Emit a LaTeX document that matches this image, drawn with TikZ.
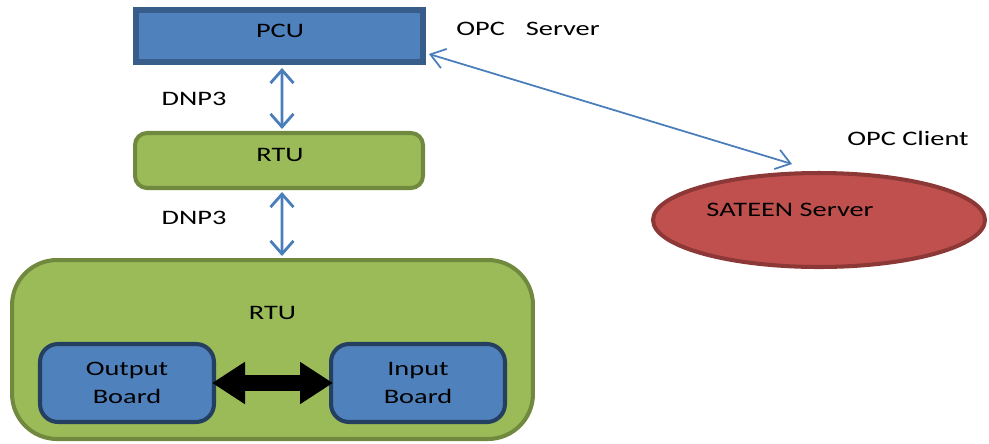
\documentclass[tikz,border=0pt]{standalone}
\usepackage{fontspec}
\setmainfont[FakeStretch=1.38]{Carlito}
\usetikzlibrary{arrows.meta,shapes.geometric}
\definecolor{boxblue}{HTML}{4F81BD}
\definecolor{boxblueline}{HTML}{385D8A}
\definecolor{boardline}{HTML}{243F60}
\definecolor{rtugreen}{HTML}{9BBB59}
\definecolor{rtuline}{HTML}{71893F}
\definecolor{srvred}{HTML}{C0504D}
\definecolor{srvline}{HTML}{8C3836}
\definecolor{linkblue}{HTML}{4A7EBB}
\begin{document}
\begin{tikzpicture}[x=0.02cm,y=-0.02cm,
		every node/.style={font=\fontsize{11.7}{16}\selectfont,text=black},
		pcubox/.style={draw=boxblueline,fill=boxblue,line width=3.4pt,minimum width=5.74cm,minimum height=1.04cm},
		rtubox/.style={draw=rtuline,fill=rtugreen,line width=2.3pt,rounded corners=0.24cm,minimum width=5.76cm,minimum height=1.1cm},
		bigrtu/.style={draw=rtuline,fill=rtugreen,line width=2.3pt,rounded corners=0.9cm,minimum width=10.42cm,minimum height=3.58cm},
		board/.style={draw=boardline,fill=boxblue,line width=2.3pt,rounded corners=0.36cm,minimum width=3.48cm,minimum height=1.56cm,align=center,inner sep=0pt},
		server/.style={ellipse,draw=srvline,fill=srvred,line width=2.3pt,minimum width=6.64cm,minimum height=1.88cm,inner sep=0pt},
		dnp/.style={linkblue,line width=1.6pt,{Straight Barb[length=0.26cm,width=0.46cm]}-{Straight Barb[length=0.26cm,width=0.46cm]}},
		opclink/.style={linkblue,line width=1pt,{Straight Barb[length=0.28cm,width=0.4cm]}-{Straight Barb[length=0.28cm,width=0.4cm]}},
		busarrow/.style={black,line width=0.33cm,{Triangle[length=0.66cm,width=0.8cm]}-{Triangle[length=0.66cm,width=0.8cm]},shorten <=-0.08cm,shorten >=-0.08cm}]
		\useasboundingbox (0,0) rectangle (989,443);
		\node[pcubox] (pcu) at (279.5,36) {};
		\node (pcut) at (280,31) {PCU};
		\node[rtubox] (rtu) at (279,160.5) {};
		\node (rtut) at (280,155) {RTU};
		\node[bigrtu,label={[anchor=center,yshift=-1.1cm]north:RTU}] (rtubig) at (272.5,349.5) {};
		\node[board] (outb) at (127,383) {Output\\Board};
		\node[board] (inb) at (418,383) {Input\\Board};
		\node[server,label={[anchor=center,xshift=-0.58cm,yshift=0.2cm]center:SATEEN Server}] (sat) at (819,220) {};
		\node (dnpa) at (194,99) {DNP3};
		\node (dnpb) at (194,218) {DNP3};
		\node (opcs) at (528,29) {OPC\hspace{0.42cm}Server};
		\node (opcc) at (908,138) {OPC Client};
		\draw[dnp] ([xshift=0.05cm,yshift=-0.06cm]pcu.south) -- ([xshift=0.06cm,yshift=0.04cm]rtu.north);
		\draw[dnp] ([xshift=0.06cm,yshift=-0.04cm]rtu.south) -- ([xshift=0.19cm,yshift=0.04cm]rtubig.north);
		\draw[opclink] ([xshift=0.06cm,yshift=-0.36cm]pcu.east) -- ([xshift=-0.54cm,yshift=0.14cm]sat.north);
		\draw[busarrow] (outb) -- (inb);
	\end{tikzpicture}
\end{document}
